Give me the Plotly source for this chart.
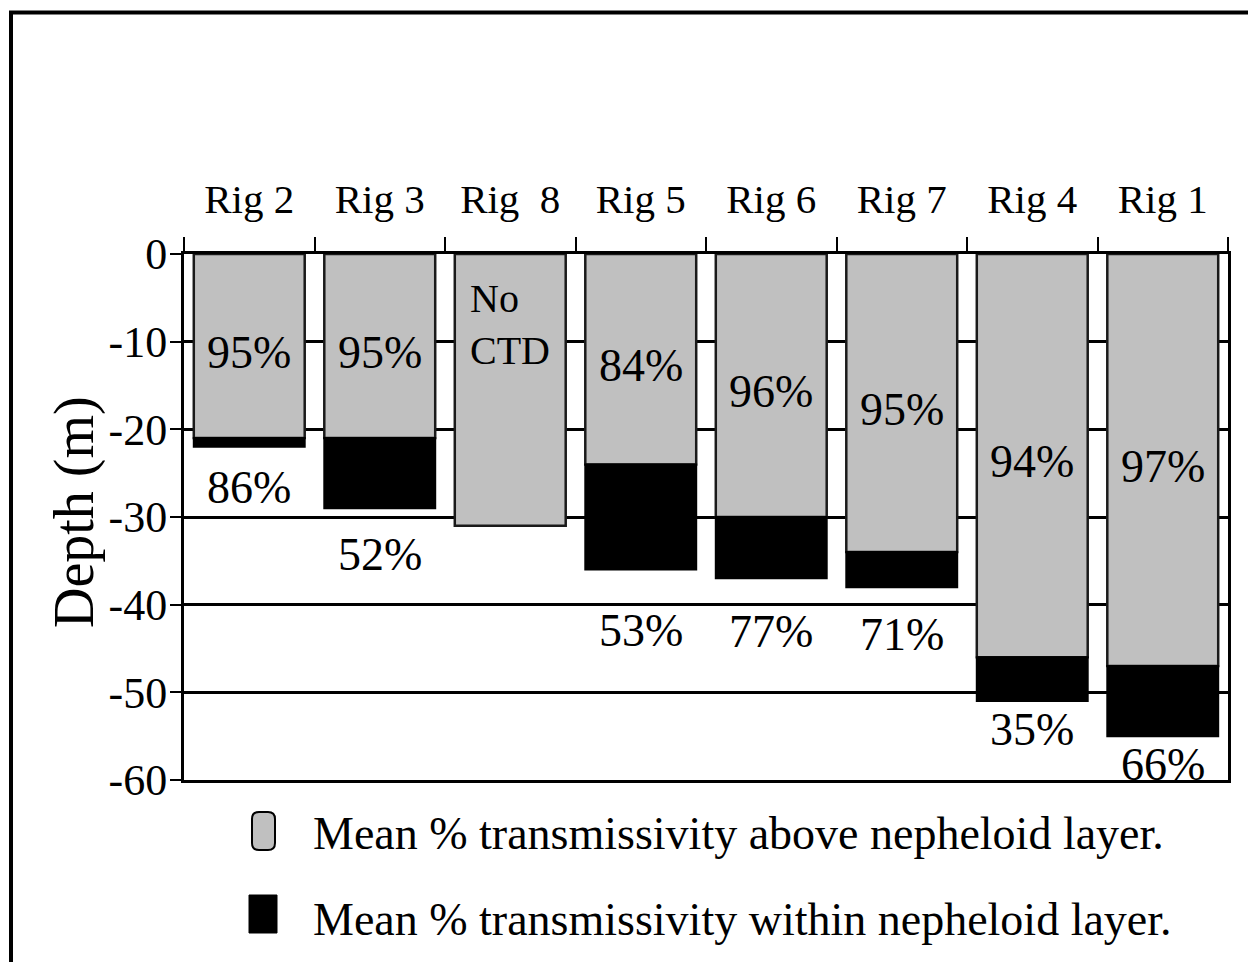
import plotly.graph_objects as go

# ---------------- data ----------------
rigs = ["Rig 2", "Rig 3", "Rig\u00a0 8", "Rig 5", "Rig 6", "Rig 7", "Rig 4", "Rig 1"]
layer_top = [-21, -21, -31, -24, -30, -34, -46, -47]          # bottom of grey (top of nepheloid layer), m
layer_bottom = [-22, -29, None, -36, -37, -38, -51, -55]      # bottom of nepheloid layer, m
pct_above = ["95%", "95%", None, "84%", "96%", "95%", "94%", "97%"]
pct_within = ["86%", "52%", None, "53%", "77%", "71%", "35%", "66%"]
no_data_note = {"Rig\u00a0 8": "No<br>CTD"}
y_ticks = [0, -10, -20, -30, -40, -50, -60]
y_tick_text = ["0", "-10", "-20", "-30", "-40", "-50", "-60"]
legend_labels = ["Mean % transmissivity above nepheloid layer.",
                 "Mean % transmissivity within nepheloid layer."]

# ---------------- style / layout helpers ----------------
FONT = "Liberation Serif, Times New Roman, serif"
GREY = "#c0c0c0"
within_label_shift_px = [-41, -46, 0, -61, -53, -47, -28, -28]

W, H = 1248, 962
ML, MR, MT, MB = 184, 20, 254, 182
PW, PH = W - ML - MR, H - MT - MB


def px(x):
    return (x - ML) / PW


def py(y):
    return (H - MB - y) / PH


fig = go.Figure()

fig.add_trace(go.Bar(
    x=rigs, y=layer_top, base=[0] * len(rigs), width=0.85,
    marker=dict(color=GREY, line=dict(color="#1a1a1a", width=2.5)),
    name=legend_labels[0], showlegend=False, hoverinfo="skip"))

within = [(b - t) if b is not None else None for t, b in zip(layer_top, layer_bottom)]
fig.add_trace(go.Bar(
    x=rigs, y=within, base=layer_top, width=0.85,
    marker=dict(color="black", line=dict(color="black", width=2)),
    name=legend_labels[1], showlegend=False, hoverinfo="skip"))

annotations = []
for rig, top, bot, pa, pw, sh in zip(rigs, layer_top, layer_bottom, pct_above, pct_within,
                                      within_label_shift_px):
    if pa is not None:
        annotations.append(dict(x=rig, y=top / 2, yshift=-6, text=pa, showarrow=False,
                                xanchor="center", yanchor="middle",
                                font=dict(family=FONT, size=46, color="black")))
    if pw is not None and bot is not None:
        annotations.append(dict(x=rig, y=bot, yshift=sh, text=pw, showarrow=False,
                                xanchor="center", yanchor="middle",
                                font=dict(family=FONT, size=46, color="black")))
    if rig in no_data_note:
        annotations.append(dict(x=rig, y=top * 0.26, text=no_data_note[rig], showarrow=False,
                                xanchor="center", yanchor="middle", align="left",
                                font=dict(family=FONT, size=40, color="black")))

# axis title
annotations.append(dict(xref="paper", yref="paper", x=px(74), y=py(512), text="Depth (m)",
                        textangle=-90, showarrow=False, xanchor="center", yanchor="middle",
                        font=dict(family=FONT, size=56, color="black")))
# legend text
for lbl, yc in zip(legend_labels, [833, 919]):
    annotations.append(dict(xref="paper", yref="paper", x=px(311), y=py(yc), text=lbl,
                            showarrow=False, xanchor="left", yanchor="middle",
                            font=dict(family=FONT, size=46, color="black")))

# legend symbols and outer frame
gx0, gx1, gy0, gy1 = px(252), px(275), py(850), py(812)
rx, ry = 7 / PW, 7 / PH
grey_path = (f"M {gx0+rx},{gy0} L {gx1-rx},{gy0} Q {gx1},{gy0} {gx1},{gy0+ry} "
             f"L {gx1},{gy1-ry} Q {gx1},{gy1} {gx1-rx},{gy1} L {gx0+rx},{gy1} "
             f"Q {gx0},{gy1} {gx0},{gy1-ry} L {gx0},{gy0+ry} Q {gx0},{gy0} {gx0+rx},{gy0} Z")
shapes = [
    dict(type="path", xref="paper", yref="paper", path=grey_path,
         fillcolor=GREY, line=dict(color="black", width=2)),
    dict(type="rect", xref="paper", yref="paper", x0=px(249), x1=px(277), y0=py(933), y1=py(895),
         fillcolor="black", line=dict(color="black", width=1)),
    dict(type="rect", xref="paper", yref="paper", x0=px(11), x1=px(1260), y0=py(980), y1=py(12.5),
         fillcolor="rgba(0,0,0,0)", line=dict(color="black", width=4)),
]

fig.update_layout(
    width=W, height=H,
    margin=dict(l=ML, r=MR, t=MT, b=MB, pad=0),
    paper_bgcolor="white", plot_bgcolor="white",
    barmode="overlay", showlegend=False,
    font=dict(family=FONT, color="black"),
    annotations=annotations, shapes=shapes,
    xaxis=dict(type="category", side="top", range=[-0.5, 7.5], tickson="boundaries",
               ticks="outside", ticklen=14, tickwidth=2, tickcolor="black",
               ticklabelstandoff=22,
               showline=True, linecolor="black", linewidth=3, mirror=True,
               showgrid=False, zeroline=False,
               tickfont=dict(family=FONT, size=41, color="black")),
    yaxis=dict(range=[-60, 0], tickvals=y_ticks, ticktext=y_tick_text,
               ticks="outside", ticklen=11, tickwidth=2, tickcolor="black",
               ticklabelstandoff=-6,
               showline=True, linecolor="black", linewidth=3, mirror=True,
               showgrid=True, gridcolor="black", gridwidth=2.5, zeroline=False,
               tickfont=dict(family=FONT, size=44, color="black")),
)

fig.write_html("out.html", config={"displayModeBar": False},
               post_script="document.body.style.margin='0';document.body.style.overflow='hidden';")
